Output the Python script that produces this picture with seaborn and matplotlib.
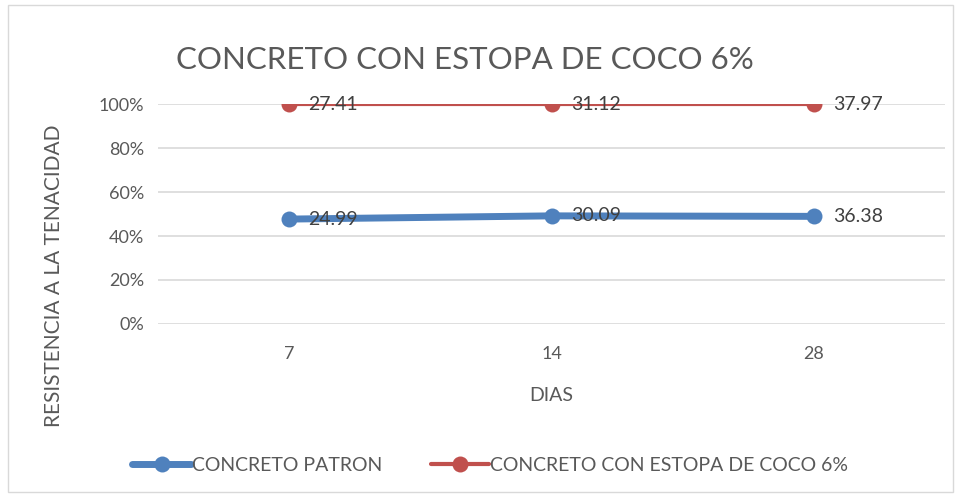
import matplotlib.pyplot as plt
import matplotlib.patches as mpatches
import pandas as pd
import seaborn as sns

dias = ["7", "14", "28"]
patron = [24.99, 30.09, 36.38]
estopa = [27.41, 31.12, 37.97]
series_names = ["CONCRETO PATRON", "CONCRETO CON ESTOPA DE COCO 6%"]
colors = ["#4F81BD", "#C0504D"]
TXT = "#595959"

sns.set_style("white")
plt.rcParams["font.family"] = ["Lato", "DejaVu Sans"]

# 100% stacked line, as in the spreadsheet
total = [a + b for a, b in zip(patron, estopa)]
rows = []
for i, d in enumerate(dias):
    rows.append({"dia": i, "pct": patron[i] / total[i], "serie": series_names[0], "val": patron[i]})
    rows.append({"dia": i, "pct": (patron[i] + estopa[i]) / total[i], "serie": series_names[1], "val": estopa[i]})
df = pd.DataFrame(rows)

fig = plt.figure(figsize=(9.61, 4.97), dpi=100)
ax = fig.add_axes([0.1644, 0.3481, 0.819, 0.4426])

widths = {series_names[0]: 5, series_names[1]: 3}
for name, col in zip(series_names, colors):
    sub = df[df["serie"] == name]
    sns.lineplot(data=sub, x="dia", y="pct", ax=ax, color=col, linewidth=widths[name],
                 marker="o", markersize=11.5, markeredgewidth=0, label=name, zorder=3)
    for _, r in sub.iterrows():
        ax.annotate(f"{r['val']:.2f}", (r["dia"], r["pct"]), xytext=(14, 0),
                    textcoords="offset points", va="center", ha="left",
                    fontsize=14, color="#404040", zorder=4)

ax.set_xlim(-0.5, 2.5)
ax.set_ylim(0, 1)
ax.set_xticks(range(len(dias)))
ax.set_xticklabels(dias)
ax.set_yticks([0, 0.2, 0.4, 0.6, 0.8, 1.0])
ax.set_yticklabels(["0%", "20%", "40%", "60%", "80%", "100%"])
ax.tick_params(axis="both", labelsize=13, colors=TXT, length=0, pad=10)
ax.tick_params(axis="x", pad=16)
ax.grid(axis="y", color="#D9D9D9", linewidth=1.2)
ax.set_axisbelow(True)
for s in ax.spines.values():
    s.set_visible(False)

ax.set_xlabel("DIAS", fontsize=14, color=TXT, labelpad=18)
ax.set_ylabel("RESISTENCIA A LA TENACIDAD", fontsize=15, color=TXT, labelpad=14)
ax.yaxis.set_label_coords(-0.12, 0.22)

fig.text(0.484, 0.88, "CONCRETO CON ESTOPA DE COCO 6%", fontsize=22.5, color=TXT,
         ha="center", va="center")

ax.get_legend().remove()
handles, labels = ax.get_legend_handles_labels()
fig.legend(handles, labels, loc="center", bbox_to_anchor=(0.51, 0.063), ncol=2,
           frameon=False, fontsize=14, labelcolor=TXT, handlelength=3.0,
           handletextpad=0.05, columnspacing=2.5)

fig.patches.append(mpatches.Rectangle((0.008, 0.01), 0.984, 0.98, transform=fig.transFigure,
                                      fill=False, edgecolor="#D9D9D9", linewidth=1))

fig.savefig("out.png", dpi=100)
